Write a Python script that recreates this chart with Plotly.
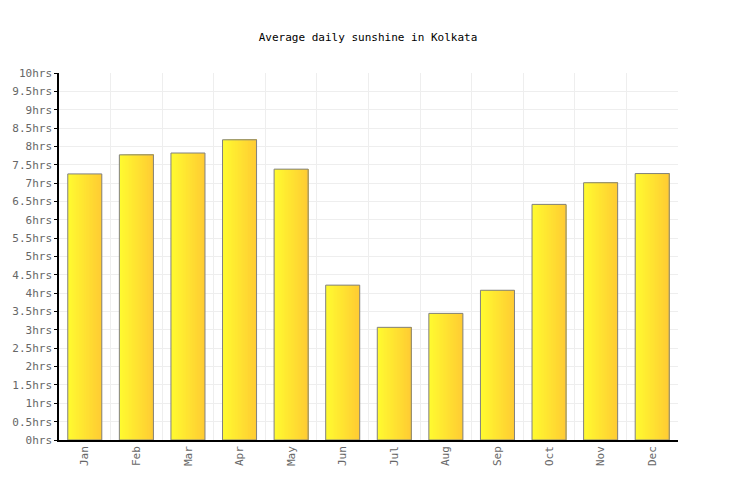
import plotly.graph_objects as go

months = ["Jan", "Feb", "Mar", "Apr", "May", "Jun",
          "Jul", "Aug", "Sep", "Oct", "Nov", "Dec"]
sunshine_hrs = [7.25, 7.77, 7.82, 8.18, 7.38, 4.22,
                3.07, 3.45, 4.08, 6.42, 7.01, 7.26]
y_ticks = [i * 0.5 for i in range(21)]
y_labels = ["%ghrs" % v for v in y_ticks]

bar_w = 0.66
n_strips = 24

# horizontal yellow -> orange gradient, faked with overlaid bars that
# each start a bit further right (later ones paint over earlier ones)
def strip_color(t):
    c0 = (255, 250, 48)
    c1 = (255, 204, 51)
    r, g, b = (round(a + (b_ - a) * t) for a, b_ in zip(c0, c1))
    return "rgb(%d,%d,%d)" % (r, g, b)

fig = go.Figure()
sw = bar_w / n_strips
for i in range(n_strips):
    fig.add_trace(go.Bar(
        x=months, y=sunshine_hrs,
        width=bar_w - i * sw, offset=-bar_w / 2 + i * sw,
        marker=dict(color=strip_color(i / (n_strips - 1)), line=dict(width=0)),
        hoverinfo="skip", showlegend=False,
    ))

# outline
fig.add_trace(go.Bar(
    x=months, y=sunshine_hrs,
    width=bar_w, offset=-bar_w / 2,
    marker=dict(color="rgba(0,0,0,0)", line=dict(color="#808080", width=1)),
    showlegend=False,
    hovertemplate="%{x}: %{y}hrs<extra></extra>",
))

fig.update_layout(
    width=736, height=500,
    barmode="overlay",
    paper_bgcolor="white", plot_bgcolor="white",
    margin=dict(l=59, r=58, t=73, b=60),
    font=dict(family="DejaVu Sans Mono", size=11, color="#666666"),
    title=dict(text="Average daily sunshine in Kolkata", x=0.5, xanchor="center",
               y=0.926, yanchor="middle",
               font=dict(family="DejaVu Sans Mono", size=11, color="#000000")),
    xaxis=dict(type="category", tickson="boundaries", tickangle=-90,
               showgrid=True, gridcolor="#eeeeee", gridwidth=1,
               showline=True, linecolor="#000000", linewidth=1.5,
               ticks="", ticklen=0, range=[-0.5, 11.5], automargin=False),
    yaxis=dict(range=[0, 10], tickvals=y_ticks, ticktext=y_labels,
               showgrid=True, gridcolor="#eeeeee", gridwidth=1,
               showline=True, linecolor="#000000", linewidth=1.5,
               ticks="outside", ticklen=3, tickcolor="#000000",
               zeroline=False, automargin=False),
)

fig.write_html("out.html", config={"displayModeBar": False},
               post_script="document.body.style.margin='0';")
